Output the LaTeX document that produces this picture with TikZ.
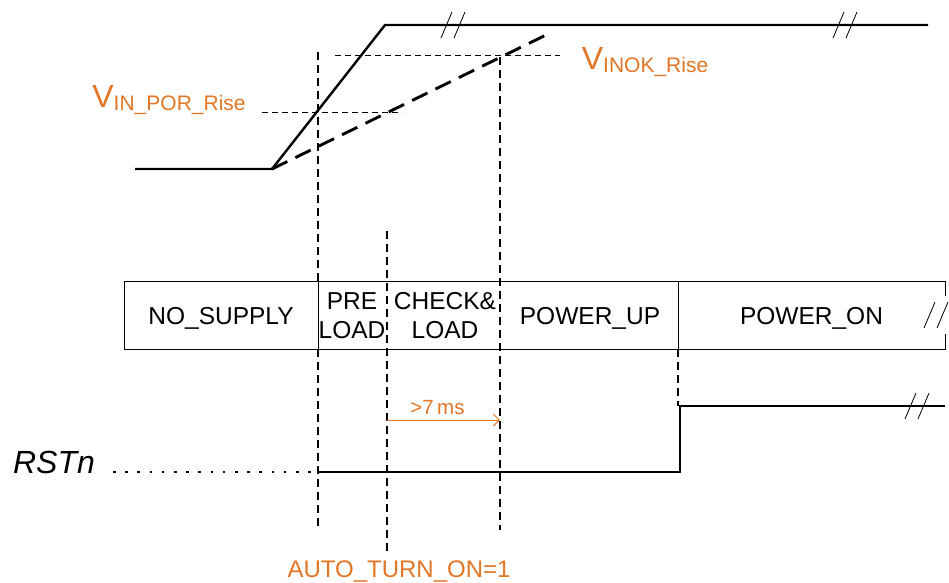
\documentclass[tikz,border=0pt]{standalone}
\usepackage{fontspec}
\setmainfont{Liberation Sans}
\usetikzlibrary{arrows.meta,positioning}
\definecolor{tdorange}{RGB}{226,118,36}
\tikzset{
  td/wave/.style={line width=2.4pt},
  td/ok/.style={line width=2.9pt, dash pattern=on 17pt off 9pt},
  td/level/.style={line width=1pt, dash pattern=on 6pt off 4pt},
  td/marker/.style={line width=1.3pt, dash pattern=on 8pt off 5pt},
  td/dots/.style={line width=2.6pt, dash pattern=on 2.6pt off 9.6pt},
  td/state/.style={draw, line width=0.9pt, minimum height=68pt, inner sep=0pt, outer sep=0pt, anchor=west},
  td/label/.style={inner sep=0pt, align=center, font=\fontsize{24.5}{29}\selectfont},
  td/note/.style={text=tdorange, inner sep=0pt},
  td/brk/.pic={\draw[line width=0.8pt] (-12,13) -- (-1,-13) (1,13) -- (12,-13);}
}
\newcommand{\tdsub}[2]{{\fontsize{32}{34}\selectfont #1}{\fontsize{21}{23}\selectfont\raisebox{-3pt}{#2}}}

\begin{document}
\begin{tikzpicture}[x=1pt, y=-1pt]
  \useasboundingbox (0,0) rectangle (949,582);

  % supply waveform
  \coordinate (lo) at (135,169);
  \coordinate (ramp) at (272,169);
  \coordinate (top) at (385,25);
  \coordinate (hi) at (928,25);
  \coordinate (okend) at (546,35);
  \draw[td/wave, line join=miter] (lo) -- (ramp) -- (top) -- (hi);
  \draw[td/ok] (ramp) -- (okend);
  \pic at (453,25) {td/brk};
  \pic at (845,25) {td/brk};

  % thresholds
  \coordinate (porL) at (262,112);
  \coordinate (porR) at (402,112);
  \coordinate (okL) at (335,55);
  \coordinate (okR) at (560,55);
  \draw[td/level] (porL) -- (porR);
  \draw[td/level] (okL) -- (okR);
  \node[td/note, anchor=base] (por) at (169,107) {\tdsub{V}{IN\_POR\_Rise}};
  \node[td/note, anchor=base] (inok) at (645,69) {\tdsub{V}{INOK\_Rise}};

  % state bar
  \node[td/state, minimum width=194pt] (nosup) at (124,315) {};
  \node[td/state, minimum width=360pt, right=0pt of nosup] (mid) {};
  \node[td/state, minimum width=267pt, right=0pt of mid] (pwron) {};
  \node[td/label] at ([yshift=-3pt]nosup.center) {NO\_SUPPLY};
  \node[td/label] (pre) at (352,316) {PRE\\LOAD};
  \node[td/label] (chk) at (445,316) {CHECK\&\\LOAD};
  \node[td/label] (pwrup) at (590,318) {POWER\_UP};
  \node[td/label] at ([yshift=-3pt]pwron.center) {POWER\_ON};
  \fill[white] (940,296) rectangle (949,334);
  \pic at (936,315) {td/brk};

  % event markers
  \coordinate (m1t) at (318,52);
  \coordinate (m1b) at (318,530);
  \coordinate (m2t) at (387,231);
  \coordinate (m2b) at (387,552);
  \coordinate (m3t) at (500,57);
  \coordinate (m3b) at (500,530);
  \draw[td/marker] (m1t) -- (nosup.north east);
  \draw[td/marker] (nosup.south east) -- (m1b);
  \draw[td/marker] (m2t) -- (m2b);
  \draw[td/marker] (m3t) -- (m3b);
  \coordinate (stepb) at (680,472);
  \coordinate (stept) at (680,406);
  \draw[td/marker] (mid.south east) -- ([xshift=-2pt]stept);

  % reset signal
  \node[font=\fontsize{32}{34}\selectfont\itshape, inner sep=0pt, anchor=base] (rst) at (54,473) {RSTn};
  \coordinate (rlo) at (318,472);
  \coordinate (rhi) at (945,406);
  \draw[td/dots] (113,472) -- (rlo);
  \draw[td/wave] (rlo) -- (stepb) -- (stept) -- (rhi);
  \pic at (917,406) {td/brk};

  % timing
  \draw[tdorange, line width=1pt, -{Straight Barb[length=6pt, width=12pt]}] (387,420) -- (500,420)
    node[midway, above=5pt, xshift=-6pt, font=\fontsize{20.5}{22}\selectfont, td/note] (dly) {>7\,ms};
  \node[td/note, font=\fontsize{24}{26}\selectfont, anchor=base] (auto) at (399,577) {AUTO\_TURN\_ON=1};
\end{tikzpicture}
\end{document}
